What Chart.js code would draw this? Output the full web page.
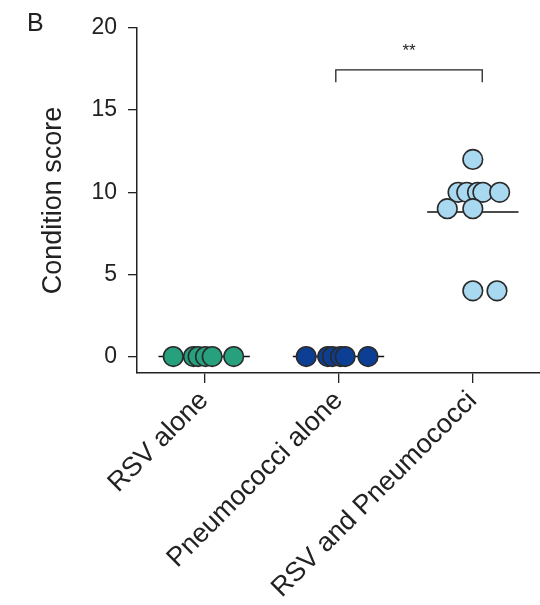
<!DOCTYPE html>
<html>
<head>
<meta charset="utf-8">
<script src="https://cdn.jsdelivr.net/npm/chart.js@4"></script>
<style>
  body { margin: 0; background: #fff; }
  #wrap { width: 540px; height: 605px; }
</style>
</head>
<body>
<div id="wrap"><canvas id="chart" width="540" height="605"></canvas></div>
<script>
const categories = ['RSV alone', 'Pneumococci alone', 'RSV and Pneumococci'];

// condition scores per animal, with the horizontal spread used in the figure
const rsvScores = [0, 0, 0, 0, 0, 0];
const rsvSpread = [-0.23, -0.08, -0.045, 0.01, 0.06, 0.22];
const pneumoScores = [0, 0, 0, 0, 0, 0];
const pneumoSpread = [-0.24, -0.08, -0.045, 0.015, 0.05, 0.22];
const bothScores = [12, 10, 10, 10, 10, 10, 9, 9, 4, 4];
const bothSpread = [0, -0.11, -0.045, 0.035, 0.075, 0.2, -0.19, 0, 0, 0.18];

const yTicks = [0, 5, 10, 15, 20];

// significance bracket between group 2 and 3
const bracketX = [0.98, 0.98, 2.07, 2.07];
const bracketY = [16.7, 17.45, 17.45, 16.7];
const sigLabel = '**';

const colors = ['#27a07d', '#0c3f93', '#a9d8f1'];
const edge = '#2a2a2a';

function points(idx, scores, spread) {
  return scores.map((v, i) => ({ x: idx + spread[i], y: v }));
}
function mean(a) { return a.reduce((s, v) => s + v, 0) / a.length; }
function meanLine(idx, scores) {
  const m = mean(scores);
  return [{ x: idx - 0.34, y: m }, { x: idx + 0.34, y: m }];
}

const groups = [rsvScores, pneumoScores, bothScores];
const spreads = [rsvSpread, pneumoSpread, bothSpread];

const datasets = [];
groups.forEach((g, i) => {
  datasets.push({
    type: 'scatter',
    data: points(i, g, spreads[i]),
    backgroundColor: colors[i],
    borderColor: edge,
    borderWidth: 1.6,
    pointRadius: 9.8,
    order: 1
  });
  datasets.push({
    type: 'line',
    data: meanLine(i, g),
    borderColor: '#111',
    borderWidth: 1.5,
    pointRadius: 0,
    fill: false,
    order: 2
  });
});
datasets.push({
  type: 'line',
  data: bracketX.map((x, i) => ({ x: x, y: bracketY[i] })),
  borderColor: '#222',
  borderWidth: 1.3,
  pointRadius: 0,
  fill: false,
  order: 2
});

const extras = {
  id: 'extras',
  afterDraw(chart) {
    const ctx = chart.ctx;
    const xs = chart.scales.x, ys = chart.scales.y;
    ctx.save();
    ctx.fillStyle = '#222';
    ctx.font = '25px "Liberation Sans", Arial, sans-serif';
    ctx.textAlign = 'left';
    ctx.textBaseline = 'middle';
    ctx.fillText('B', 27, 24);
    ctx.font = '17px "Liberation Sans", Arial, sans-serif';
    ctx.textAlign = 'center';
    const midX = (bracketX[0] + bracketX[3]) / 2;
    ctx.fillText(sigLabel, xs.getPixelForValue(midX), ys.getPixelForValue(18.6));
    ctx.restore();
  }
};

const family = '"Liberation Sans", Arial, sans-serif';

new Chart(document.getElementById('chart'), {
  data: { datasets: datasets },
  options: {
    responsive: false,
    animation: false,
    layout: { autoPadding: false, padding: { top: 28, right: 0, left: 0, bottom: 0 } },
    plugins: { legend: { display: false }, tooltip: { enabled: false } },
    scales: {
      x: {
        type: 'linear',
        min: -0.5,
        max: 2.5,
        afterBuildTicks: s => { s.ticks = categories.map((c, i) => ({ value: i })); },
        afterFit: s => { s.height = 232; s.paddingLeft = 0; s.paddingRight = 0; },
        ticks: {
          callback: v => categories[v],
          minRotation: 45,
          maxRotation: 45,
          color: '#222',
          font: { family: family, size: 27 },
          padding: 2
        },
        grid: { drawOnChartArea: false, tickLength: 10, color: '#222', lineWidth: 1.3 },
        border: { color: '#222', width: 1.5 }
      },
      y: {
        min: -1,
        max: 20,
        afterBuildTicks: s => { s.ticks = yTicks.map(v => ({ value: v })); },
        afterFit: s => { s.width = 137; },
        ticks: { color: '#222', font: { family: family, size: 23 }, padding: 11 },
        grid: { drawOnChartArea: false, tickLength: 9, color: '#222', lineWidth: 1.3 },
        border: { color: '#222', width: 1.5 },
        title: {
          display: true,
          text: 'Condition score',
          color: '#222',
          font: { family: family, size: 27 },
          padding: { top: 37, bottom: 0 }
        }
      }
    }
  },
  plugins: [extras]
});
</script>
</body>
</html>
